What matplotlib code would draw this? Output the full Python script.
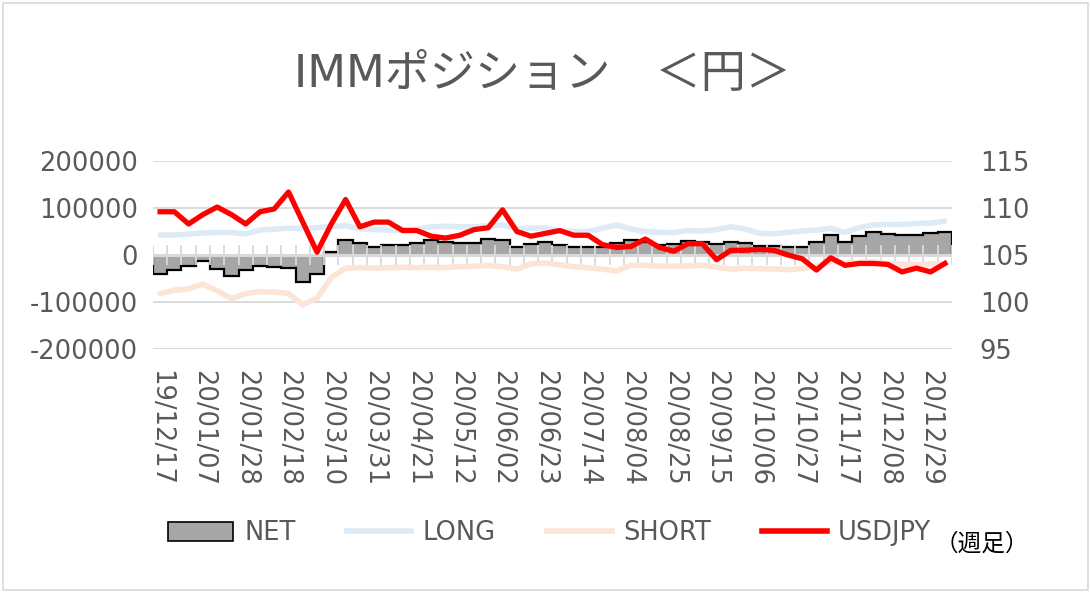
import numpy as np
import matplotlib
matplotlib.use("Agg")
import matplotlib.pyplot as plt
from matplotlib.patches import Patch, Rectangle
from matplotlib.lines import Line2D

plt.rcParams['font.family'] = ['DejaVu Sans', 'Noto Sans CJK JP']

dates = [
    "19/12/17", "19/12/24", "19/12/31",
    "20/01/07", "20/01/14", "20/01/21", "20/01/28", "20/02/04", "20/02/11", "20/02/18", "20/02/25",
    "20/03/03", "20/03/10", "20/03/17", "20/03/24", "20/03/31", "20/04/07", "20/04/14", "20/04/21",
    "20/04/28", "20/05/05", "20/05/12", "20/05/19", "20/05/26", "20/06/02", "20/06/09", "20/06/16",
    "20/06/23", "20/06/30", "20/07/07", "20/07/14", "20/07/21", "20/07/28", "20/08/04", "20/08/11",
    "20/08/18", "20/08/25", "20/09/01", "20/09/08", "20/09/15", "20/09/22", "20/09/29", "20/10/06",
    "20/10/13", "20/10/20", "20/10/27", "20/11/03", "20/11/10", "20/11/17", "20/11/24", "20/12/01",
    "20/12/08", "20/12/15", "20/12/22", "20/12/29", "21/01/05",
]

net = [-41000, -32000, -23000, -12000, -30000, -44000, -33000, -23000, -26000, -28000,
       -58000, -41000, 6000, 32000, 26000, 18000, 22000, 22000, 26000, 32000,
       27000, 26000, 26000, 35000, 31000, 18000, 23000, 28000, 21000, 18000,
       18000, 18000, 26000, 31000, 28000, 21000, 23000, 30000, 28000, 23000,
       28000, 26000, 20000, 20000, 16000, 18000, 28000, 43000, 28000, 40000,
       48000, 45000, 43000, 43000, 46000, 49000]

long_pos = [42500, 42500, 44700, 46800, 48000, 48000, 44700, 53000, 55000, 57000,
            57000, 58000, 61000, 62000, 56000, 54000, 53000, 53000, 55000, 60000,
            61000, 60000, 60000, 62000, 64000, 56000, 57000, 58000, 51000, 50000,
            50000, 57000, 64000, 55000, 50000, 48000, 48000, 52000, 51000, 54000,
            60000, 55000, 46000, 45000, 48000, 51000, 53000, 57000, 48000, 58000,
            64000, 65000, 65000, 67000, 68000, 72000]

short_pos = [-82000, -75000, -72000, -62000, -76000, -93000, -82000, -78000, -79000, -82000,
             -106000, -92000, -48000, -28000, -27000, -28000, -27000, -26000, -27000, -26000,
             -27000, -25000, -24000, -22000, -25000, -30000, -19000, -17000, -21000, -25000,
             -27000, -30000, -34000, -22000, -22000, -24000, -24000, -23000, -22000, -26000,
             -30000, -28000, -29000, -30000, -31000, -29000, -24000, -14000, -17000, -16000,
             -14000, -18000, -20000, -21000, -19000, -19000]

usdjpy = [109.6, 109.6, 108.3, 109.3, 110.1, 109.3, 108.3, 109.6, 109.9, 111.7,
          108.5, 105.3, 108.3, 110.9, 108.0, 108.5, 108.5, 107.6, 107.6, 107.0,
          106.8, 107.1, 107.7, 107.9, 109.8, 107.5, 107.0, 107.3, 107.6, 107.1,
          107.1, 106.1, 105.8, 105.9, 106.7, 105.8, 105.4, 106.2, 106.2, 104.5,
          105.5, 105.5, 105.6, 105.5, 105.0, 104.6, 103.4, 104.7, 103.9, 104.1,
          104.1, 104.0, 103.2, 103.6, 103.2, 104.1]

left_ticks = [-200000, -100000, 0, 100000, 200000]
right_ticks = [95, 100, 105, 110, 115]

title = "IMMポジション　＜円＞"
txt_col = '#595959'
grid_col = '#d9d9d9'
fs = 18.5

fig = plt.figure(figsize=(10.91, 5.93), dpi=100)
ax = fig.add_axes([0.1402, 0.4115, 0.7324, 0.317])
ax2 = ax.twinx()

n = len(dates)
x = np.arange(n)

ax.set_xlim(-0.5, n - 0.5)
ax.set_ylim(-200000, 200000)
ax2.set_ylim(95, 115)

ax.set_yticks(left_ticks)
ax.set_yticklabels([str(v) for v in left_ticks])
ax2.set_yticks(right_ticks)
ax2.set_yticklabels([str(v) for v in right_ticks])

for a in (ax, ax2):
    for s in a.spines.values():
        s.set_visible(False)

ax.grid(axis='y', color=grid_col, lw=1.3, zorder=0)
ax.set_axisbelow(True)

ax.bar(x, net, width=1.0, color='#a6a6a6', lw=0, zorder=1)
ax.stairs(net, np.arange(n + 1) - 0.5, baseline=0, color='black', lw=1.6, zorder=2)
ax.axhline(0, color=grid_col, lw=2.2, zorder=2.5)
ax.vlines(np.arange(n + 1) - 0.5, -21000, 21000, color=grid_col, lw=1.3, zorder=2.5)

ax.plot(x, long_pos, color='#ddebf7', lw=4.0, zorder=3, solid_capstyle='round')
ax.plot(x, short_pos, color='#fce4d6', lw=4.0, zorder=3, solid_capstyle='round')
ax2.plot(x, usdjpy, color='#ff0000', lw=3.8, zorder=4, solid_joinstyle='round')

sel = list(range(0, n, 3))
ax.set_xticks(sel)
ax.set_xticklabels([dates[i] for i in sel], rotation=-90, ha='center', va='top')

ax.tick_params(axis='x', length=0, pad=15, labelsize=fs, labelcolor=txt_col)
ax.tick_params(axis='y', length=0, pad=11, labelsize=fs, labelcolor=txt_col)
ax2.tick_params(axis='y', length=0, pad=20, labelsize=fs, labelcolor=txt_col)

fig.text(0.497, 0.874, title, ha='center', va='center', fontsize=32.5, color=txt_col)

handles = [
    Patch(facecolor='#a6a6a6', edgecolor='black', lw=1.2),
    Line2D([], [], color='#ddebf7', lw=4),
    Line2D([], [], color='#fce4d6', lw=4),
    Line2D([], [], color='#ff0000', lw=4),
]
labels = ["NET", "LONG", "SHORT", "USDJPY"]
fig.legend(handles, labels, ncol=4, loc='center', bbox_to_anchor=(0.504, 0.101),
           frameon=False, fontsize=fs, labelcolor=txt_col, handlelength=2.5,
           handleheight=0.78, columnspacing=2.0, handletextpad=0.45)
fig.text(0.857, 0.084, "（週足）", ha='left', va='center', fontsize=17, color='black')

fig.add_artist(Rectangle((0.003, 0.005), 0.994, 0.99, transform=fig.transFigure,
                         fill=False, edgecolor=grid_col, lw=1.2))

fig.savefig("out.png", dpi=100)
